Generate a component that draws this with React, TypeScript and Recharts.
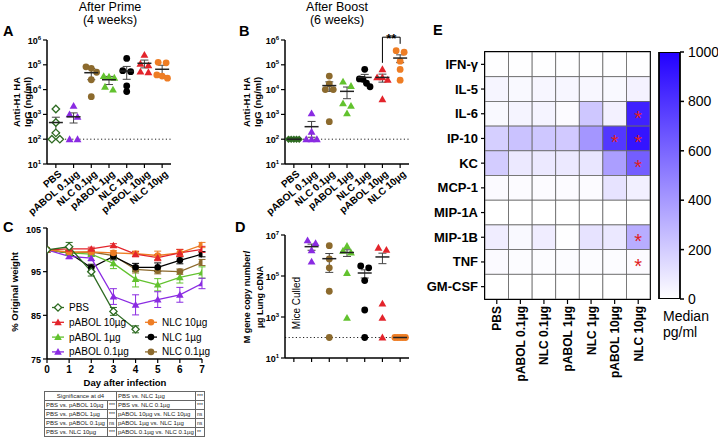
import React from "react";
import {
  ScatterChart,
  Scatter,
  LineChart,
  Line,
  BarChart,
  Bar,
  XAxis,
  YAxis,
  ErrorBar,
  ReferenceLine,
  ReferenceArea,
  ReferenceDot,
} from "recharts";

const FONT = "'Liberation Sans', Arial, Helvetica, sans-serif";

const GROUPS = ["PBS", "pABOL 0.1µg", "NLC 0.1µg", "pABOL 1µg", "NLC 1µg", "pABOL 10µg", "NLC 10µg"];
const GROUP_COLORS = ["#2e6b22", "#8a2be2", "#8c6a2d", "#62c22e", "#000000", "#e3242b", "#ee7d24"];
const GROUP_SHAPES = ["diamond", "triangle", "circle", "triangle", "circle", "triangle", "circle"];

// A: anti-H1 HA IgG after prime (ng/ml), one array per group
const primeValues = [
  [1650, 470, 180, 100, 100],
  [2200, 1000, 800, 100, 100],
  [83000, 72000, 50000, 25000, 5200],
  [35000, 33000, 30000, 13000, 10000],
  [180000, 58000, 53000, 14000, 8300],
  [250000, 110000, 95000, 53000, 50000],
  [126000, 120000, 39000, 35000, 29000],
];
const primeMean = [470, 800, 48000, 25000, 56000, 115000, 66000];
const primeSem = [300, 350, 23000, 9000, 30000, 40000, 30000];

// B: after boost
const boostValues = [
  [100, 100, 100, 100, 100],
  [1100, 200, 100, 100, 100],
  [35000, 17000, 10000, 10000, 510],
  [21000, 14000, 2800, 2200, 1100],
  [66000, 27000, 26000, 18000, 13000],
  [66000, 31000, 31000, 25000, 4100],
  [370000, 320000, 140000, 65000, 24000],
];
const boostMean = [100, 320, 14500, 8500, 31000, 31000, 187000];
const boostSem = [0, 200, 6000, 4200, 10000, 11000, 65000];

// D: M gene copies / µg lung cDNA (PBS mice culled)
const lungValues = [
  [],
  [5500000, 4000000, 1800000, 500000],
  [3000000, 680000, 250000, 18000, 100],
  [2900000, 1700000, 1400000, 140000, 900],
  [310000, 250000, 60000, 2200, 100],
  [2400000, 1900000, 4500, 900, 100],
  [100, 100, 100, 100, 100],
];
const lungMean = [null, 2700000, 700000, 1400000, 140000, 850000, 100];
const lungSem = [null, 900000, 550000, 500000, 60000, 450000, 0];

// C: % original weight by day
const days = [0, 1, 2, 3, 4, 5, 6, 7];
const wPbs = [100, 100.7, 95.0, 85.9, 81.8, null, null, null];
const wPbsErr = [0, 1.0, 1.0, 0.9, 0.8, null, null, null];
const wPabol10 = [100, 100.2, 100.2, 101.0, 99.0, 98.2, 99.3, 100.1];
const wPabol10Err = [0, 0.4, 0.4, 0.4, 0.6, 0.7, 0.8, 0.7];
const wPabol1 = [100, 99.3, 99.0, 96.9, 93.3, 92.0, 93.7, 94.8];
const wPabol1Err = [0, 0.5, 0.5, 1.2, 1.8, 1.4, 1.3, 1.3];
const wPabol01 = [100, 98.5, 98.1, 89.3, 87.4, 88.6, 89.7, 92.3];
const wPabol01Err = [0, 0.5, 0.6, 1.8, 2.3, 1.8, 1.7, 1.2];
const wNlc10 = [100, 99.5, 99.5, 99.3, 99.1, 98.7, 99.3, 101.1];
const wNlc10Err = [0, 0.4, 0.4, 0.5, 0.6, 1.0, 0.8, 0.6];
const wNlc1 = [100, 99.3, 95.9, 98.5, 96.0, 96.0, 97.6, 99.0];
const wNlc1Err = [0, 0.5, 0.8, 0.8, 0.9, 1.0, 0.8, 0.6];
const wNlc01 = [100, 99.3, 99.5, 98.7, 95.5, 95.2, 95.0, 97.1];
const wNlc01Err = [0, 0.5, 0.5, 0.6, 0.8, 0.7, 0.6, 0.7];

// significance table (day 4)
const sigTitle = "Significance at d4";
const sigLeftComparisons = ["PBS vs. pABOL 10µg", "PBS vs. pABOL 1µg", "PBS vs. pABOL 0.1µg", "PBS vs. NLC 10µg"];
const sigLeftStars = ["***", "***", "ns", "***"];
const sigRightComparisons = [
  "PBS vs. NLC 1µg",
  "PBS vs. NLC 0.1µg",
  "pABOL 10µg vs. NLC 10µg",
  "pABOL 1µg vs. NLC 1µg",
  "pABOL 0.1µg vs. NLC 0.1µg",
];
const sigRightStars = ["***", "***", "ns", "ns", "**"];

// E: cytokine medians (pg/ml)
const cytokines = ["IFN-γ", "IL-5", "IL-6", "IP-10", "KC", "MCP-1", "MIP-1A", "MIP-1B", "TNF", "GM-CSF"];
const cytokineMedians = [
  [5, 5, 5, 5, 5, 5, 5],
  [40, 25, 35, 35, 30, 25, 50],
  [25, 45, 45, 15, 220, 55, 870],
  [190, 240, 220, 210, 410, 780, 920],
  [200, 85, 85, 85, 100, 380, 630],
  [20, 15, 15, 15, 15, 110, 60],
  [0, 0, 0, 0, 0, 0, 0],
  [70, 25, 70, 5, 110, 90, 320],
  [20, 12, 12, 12, 12, 12, 15],
  [0, 0, 0, 0, 0, 0, 0],
];
const starredCells = [[2, 6], [3, 5], [3, 6], [4, 6], [7, 6], [8, 6]];
const colorbarTicks = [0, 200, 400, 600, 800, 1000];

const LOG_TICKS_AB = [10, 100, 1e3, 1e4, 1e5, 1e6];
const LOG_TICKS_D = [10, 100, 1e3, 1e4, 1e5, 1e6, 1e7];

function heatColor(v: number) {
  const t = Math.max(0, Math.min(1, v / 1000));
  const r = Math.round(255 - t * (255 - 34));
  const g = Math.round(255 - t * 255);
  return `rgb(${r},${g},255)`;
}

// simple beeswarm: spread points that sit at nearly the same level
function swarm(vals: number[]): number[] {
  const order = vals.map((_, i) => i).sort((a, b) => vals[b] - vals[a]);
  const offsets = vals.map(() => 0);
  let cluster: number[] = [];
  const flush = () => {
    const n = cluster.length;
    const step = n > 1 ? Math.min(0.45, 0.6 / (n - 1)) : 0;
    cluster.forEach((idx, k) => {
      offsets[idx] = (k - (n - 1) / 2) * step;
    });
    cluster = [];
  };
  order.forEach((idx) => {
    const last = cluster[cluster.length - 1];
    if (cluster.length && Math.log10(vals[last]) - Math.log10(vals[idx]) > 0.22) flush();
    cluster.push(idx);
  });
  flush();
  return offsets;
}

function Marker({ cx, cy, shape, color, open, r = 3.4 }: any) {
  if (cx == null || cy == null || Number.isNaN(cx) || Number.isNaN(cy)) return <g />;
  const fill = open ? "#fff" : color;
  const sw = open ? 1.3 : 0;
  if (shape === "circle") return <circle cx={cx} cy={cy} r={r} fill={fill} stroke={color} strokeWidth={sw} />;
  if (shape === "triangle") {
    const s = r * 1.15;
    return (
      <polygon
        points={`${cx},${cy - s} ${cx + s},${cy + s * 0.75} ${cx - s},${cy + s * 0.75}`}
        fill={fill}
        stroke={color}
        strokeWidth={sw}
      />
    );
  }
  const d = r * 1.1;
  return (
    <polygon
      points={`${cx},${cy - d} ${cx + d},${cy} ${cx},${cy + d} ${cx - d},${cy}`}
      fill={fill}
      stroke={color}
      strokeWidth={sw}
    />
  );
}

function LogTick({ x, y, payload }: any) {
  const exp = Math.round(Math.log10(payload.value));
  return (
    <text x={x} y={y} dy={3.5} textAnchor="end" fontSize={9} fontWeight="bold" fontFamily={FONT} fill="#000">
      10
      <tspan dy={-4} fontSize={6}>
        {exp}
      </tspan>
    </text>
  );
}

function NumTick({ x, y, payload, axis }: any) {
  return (
    <text
      x={x}
      y={y}
      dy={axis === "x" ? 8 : 3.5}
      textAnchor={axis === "x" ? "middle" : "end"}
      fontSize={axis === "x" ? 10 : 9}
      fontWeight="bold"
      fontFamily={FONT}
      fill="#000"
    >
      {payload.value}
    </text>
  );
}

function CategoryTick({ x, y, payload }: any) {
  const tx = x + 4;
  const ty = y + 2;
  return (
    <text
      x={tx}
      y={ty}
      dy={4}
      transform={`rotate(-40 ${tx} ${ty})`}
      textAnchor="end"
      fontSize={10}
      fontWeight="bold"
      fontFamily={FONT}
      fill="#000"
    >
      {GROUPS[payload.value]}
    </text>
  );
}

const axisStyle = { stroke: "#000", strokeWidth: 1.5 };
const tickStyle = { stroke: "#000", strokeWidth: 1.2 };

function DotPanel({ left, top, height, marginTop, xHeight, values, means, sems, domain, ticks, pbsOpen, showLabels, children }: any) {
  const pts = values.flatMap((vals: number[], g: number) => {
    const dx = swarm(vals);
    return vals.map((v, i) => ({ x: g + dx[i], y: v, g }));
  });
  const meanPts = means
    .map((m: number | null, g: number) => (m == null ? null : { x: g, y: m, e: sems[g] }))
    .filter(Boolean);
  return (
    <div style={{ position: "absolute", left, top }}>
      <ScatterChart width={180} height={height} margin={{ top: marginTop, right: 9, bottom: 0, left: 7 }}>
        <XAxis
          type="number"
          dataKey="x"
          domain={[-0.5, 6.5]}
          ticks={[0, 1, 2, 3, 4, 5, 6]}
          allowDataOverflow
          height={xHeight}
          axisLine={axisStyle}
          tickLine={tickStyle}
          tickSize={4}
          tick={showLabels ? CategoryTick : () => <g />}
        />
        <YAxis
          type="number"
          dataKey="y"
          scale="log"
          domain={domain}
          ticks={ticks}
          allowDataOverflow
          width={40}
          axisLine={axisStyle}
          tickLine={tickStyle}
          tickSize={4}
          tickMargin={2}
          tick={LogTick}
        />
        <ReferenceLine y={100} stroke="#222" strokeWidth={1} strokeDasharray="1.2 2.4" />
        <Scatter
          data={pts}
          isAnimationActive={false}
          shape={(p: any) => (
            <Marker
              cx={p.cx}
              cy={p.cy}
              shape={GROUP_SHAPES[p.payload.g]}
              color={GROUP_COLORS[p.payload.g]}
              open={pbsOpen && p.payload.g === 0}
            />
          )}
        />
        <Scatter
          data={meanPts}
          isAnimationActive={false}
          shape={(p: any) => (
            <line x1={p.cx - 7} x2={p.cx + 7} y1={p.cy} y2={p.cy} stroke="#222" strokeWidth={1.5} />
          )}
        >
          <ErrorBar dataKey="e" direction="y" width={4} stroke="#444" strokeWidth={1} />
        </Scatter>
        {children}
      </ScatterChart>
    </div>
  );
}

const weightSeries = [
  { key: "nlc01", label: "NLC 0.1µg", values: wNlc01, errs: wNlc01Err, color: GROUP_COLORS[2], shape: "circle", open: false },
  { key: "nlc1", label: "NLC 1µg", values: wNlc1, errs: wNlc1Err, color: GROUP_COLORS[4], shape: "circle", open: false },
  { key: "pabol1", label: "pABOL 1µg", values: wPabol1, errs: wPabol1Err, color: GROUP_COLORS[3], shape: "triangle", open: false },
  { key: "pabol01", label: "pABOL 0.1µg", values: wPabol01, errs: wPabol01Err, color: GROUP_COLORS[1], shape: "triangle", open: false },
  { key: "nlc10", label: "NLC 10µg", values: wNlc10, errs: wNlc10Err, color: GROUP_COLORS[6], shape: "circle", open: false },
  { key: "pabol10", label: "pABOL 10µg", values: wPabol10, errs: wPabol10Err, color: GROUP_COLORS[5], shape: "triangle", open: false },
  { key: "pbs", label: "PBS", values: wPbs, errs: wPbsErr, color: GROUP_COLORS[0], shape: "diamond", open: true },
];

const weightRows = days.map((d, i) => {
  const row: Record<string, number | null> = { day: d };
  weightSeries.forEach((s) => {
    row[s.key] = s.values[i];
    row[s.key + "E"] = s.errs[i];
  });
  return row;
});

// legend layout: [series key, column, row]
const legendSlots: [string, number, number][] = [
  ["pbs", 0, 0],
  ["pabol10", 0, 1],
  ["pabol1", 0, 2],
  ["pabol01", 0, 3],
  ["nlc10", 1, 1],
  ["nlc1", 1, 2],
  ["nlc01", 1, 3],
];

const HEAT_PLOT_W = 165;
const HEAT_PLOT_H = 247;
const CELL_W = HEAT_PLOT_W / GROUPS.length;
const CELL_H = HEAT_PLOT_H / cytokines.length;

const heatCells = cytokines.flatMap((_, r) =>
  GROUPS.map((__, c) => ({
    x: c,
    y: r,
    v: cytokineMedians[r][c],
    star: starredCells.some(([sr, sc]) => sr === r && sc === c),
  }))
);

function HeatRowTick({ x, y, payload }: any) {
  return (
    <text x={x} y={y} dy={4.5} textAnchor="end" fontSize={13} fontWeight="bold" fontFamily={FONT} fill="#000">
      {cytokines[payload.value]}
    </text>
  );
}

function HeatColTick({ x, y, payload }: any) {
  return (
    <text
      x={x}
      y={y}
      dy={4.5}
      transform={`rotate(-90 ${x} ${y})`}
      textAnchor="end"
      fontSize={12}
      fontWeight="bold"
      fontFamily={FONT}
      fill="#000"
    >
      {GROUPS[payload.value]}
    </text>
  );
}

function ColorbarTick({ x, y, payload }: any) {
  return (
    <text x={x} y={y} dy={5} textAnchor="start" fontSize={14} fontFamily={FONT} fill="#000">
      {payload.value}
    </text>
  );
}

function VText({ x, y, children, size = 9.5, bold = true }: any) {
  return (
    <text
      x={x}
      y={y}
      transform={`rotate(-90 ${x} ${y})`}
      textAnchor="middle"
      dy="0.35em"
      fontSize={size}
      fontWeight={bold ? "bold" : "normal"}
      fontFamily={FONT}
      fill="#000"
    >
      {children}
    </text>
  );
}

const cellStyle: React.CSSProperties = {
  border: "0.6px solid #666",
  padding: "0 1px",
  height: 8,
  fontSize: 6,
  lineHeight: "8px",
  fontFamily: FONT,
  whiteSpace: "nowrap",
  overflow: "hidden",
  color: "#222",
};

export default function App() {
  return (
    <div style={{ position: "absolute", left: 0, top: 0, width: 718, height: 437, background: "#fff", fontFamily: FONT }}>
      {/* A */}
      <DotPanel
        left={0}
        top={0}
        height={240}
        marginTop={40}
        xHeight={76}
        values={primeValues}
        means={primeMean}
        sems={primeSem}
        domain={[10, 1e6]}
        ticks={LOG_TICKS_AB}
        pbsOpen
        showLabels
      />
      {/* B */}
      <DotPanel
        left={238}
        top={0}
        height={240}
        marginTop={40}
        xHeight={76}
        values={boostValues}
        means={boostMean}
        sems={boostSem}
        domain={[10, 1e6]}
        ticks={LOG_TICKS_AB}
        pbsOpen={false}
        showLabels
      >
        <ReferenceLine
          segment={[{ x: 5, y: 1.2e5 }, { x: 5, y: 1.3e6 }]}
          stroke="#000"
          strokeWidth={1}
          ifOverflow="visible"
        />
        <ReferenceLine
          segment={[{ x: 5, y: 1.3e6 }, { x: 6, y: 1.3e6 }]}
          stroke="#000"
          strokeWidth={1}
          ifOverflow="visible"
        />
        <ReferenceLine
          segment={[{ x: 6, y: 1.3e6 }, { x: 6, y: 7e5 }]}
          stroke="#000"
          strokeWidth={1}
          ifOverflow="visible"
        />
        <ReferenceDot
          x={5.5}
          y={1.8e6}
          r={0}
          ifOverflow="visible"
          label={{ value: "**", position: "center", fontSize: 13, fontWeight: "bold", fill: "#000", dy: 5 }}
        />
      </DotPanel>
      {/* D */}
      <DotPanel
        left={238}
        top={222}
        height={150}
        marginTop={13}
        xHeight={14}
        values={lungValues}
        means={lungMean}
        sems={lungSem}
        domain={[10, 1e7]}
        ticks={LOG_TICKS_D}
        pbsOpen={false}
        showLabels={false}
      />
      {/* C */}
      <div style={{ position: "absolute", left: 0, top: 220 }}>
        <LineChart width={215} height={170} data={weightRows} margin={{ top: 8, right: 13, bottom: 0, left: 7 }}>
          <XAxis
            type="number"
            dataKey="day"
            domain={[0, 7]}
            ticks={days}
            allowDataOverflow
            height={31}
            axisLine={axisStyle}
            tickLine={tickStyle}
            tickSize={4}
            tick={(p: any) => <NumTick {...p} axis="x" />}
          />
          <YAxis
            type="number"
            domain={[75, 105]}
            ticks={[75, 80, 85, 90, 95, 100, 105]}
            allowDataOverflow
            width={40}
            axisLine={axisStyle}
            tickLine={tickStyle}
            tickSize={4}
            tickMargin={2}
            tick={(p: any) => <NumTick {...p} axis="y" />}
          />
          {weightSeries.map((s) => (
            <Line
              key={s.key}
              dataKey={s.key}
              stroke={s.color}
              strokeWidth={1.3}
              isAnimationActive={false}
              connectNulls={false}
              dot={(p: any) => (
                <Marker key={`${s.key}-${p.index}`} cx={p.cx} cy={p.cy} shape={s.shape} color={s.color} open={s.open} r={3.3} />
              )}
              activeDot={false}
            >
              <ErrorBar dataKey={s.key + "E"} direction="y" width={3.5} stroke={s.color} strokeWidth={1} />
            </Line>
          ))}
        </LineChart>
      </div>
      {/* E heatmap */}
      <div style={{ position: "absolute", left: 420, top: 0 }}>
        <ScatterChart width={235} height={400} margin={{ top: 52, right: 5, bottom: 0, left: 0 }}>
          <XAxis
            type="number"
            dataKey="x"
            domain={[-0.5, 6.5]}
            ticks={[0, 1, 2, 3, 4, 5, 6]}
            allowDataOverflow
            height={101}
            axisLine={{ stroke: "#000", strokeWidth: 1.8 }}
            tickLine={tickStyle}
            tickSize={5}
            tick={HeatColTick}
          />
          <YAxis
            type="number"
            dataKey="y"
            domain={[-0.5, 9.5]}
            ticks={[0, 1, 2, 3, 4, 5, 6, 7, 8, 9]}
            reversed
            allowDataOverflow
            width={65}
            axisLine={{ stroke: "#000", strokeWidth: 1.8 }}
            tickLine={tickStyle}
            tickSize={4}
            tickMargin={3}
            tick={HeatRowTick}
          />
          <Scatter
            data={heatCells}
            isAnimationActive={false}
            shape={(p: any) => (
              <g>
                <rect
                  x={p.cx - CELL_W / 2}
                  y={p.cy - CELL_H / 2}
                  width={CELL_W}
                  height={CELL_H}
                  fill={heatColor(p.payload.v)}
                  stroke="#666"
                  strokeWidth={0.8}
                />
                {p.payload.star && (
                  <text x={p.cx} y={p.cy + 11} textAnchor="middle" fontSize={20} fontFamily={FONT} fill="#e0201e">
                    *
                  </text>
                )}
              </g>
            )}
          />
          <ReferenceArea x1={-0.5} x2={6.5} y1={-0.5} y2={9.5} fill="none" fillOpacity={0} stroke="#000" strokeWidth={1.8} />
        </ScatterChart>
      </div>
      {/* E colour bar */}
      <div style={{ position: "absolute", left: 640, top: 0 }}>
        <BarChart
          width={78}
          height={310}
          data={[{ name: "scale", v: 1000 }]}
          margin={{ top: 52, right: 0, bottom: 11, left: 19 }}
          barCategoryGap={0}
        >
          <defs>
            <linearGradient id="heatGrad" x1="0" y1="1" x2="0" y2="0">
              <stop offset="0%" stopColor={heatColor(0)} />
              <stop offset="100%" stopColor={heatColor(1000)} />
            </linearGradient>
          </defs>
          <XAxis dataKey="name" hide />
          <YAxis
            orientation="right"
            type="number"
            domain={[0, 1000]}
            ticks={colorbarTicks}
            allowDataOverflow
            width={38}
            axisLine={false}
            tickLine={{ stroke: "#000", strokeWidth: 1.5 }}
            tickSize={4}
            tickMargin={4}
            tick={ColorbarTick}
          />
          <Bar dataKey="v" fill="url(#heatGrad)" stroke="#000" strokeWidth={1.8} isAnimationActive={false} />
        </BarChart>
      </div>
      {/* significance table */}
      <table
        style={{
          position: "absolute",
          left: 44,
          top: 391,
          borderCollapse: "collapse",
          tableLayout: "fixed",
          width: 160,
        }}
      >
        <colgroup>
          <col style={{ width: 63 }} />
          <col style={{ width: 9 }} />
          <col style={{ width: 79 }} />
          <col style={{ width: 9 }} />
        </colgroup>
        <tbody>
          {sigRightComparisons.map((right, i) => (
            <tr key={i}>
              {i === 0 ? (
                <td colSpan={2} style={{ ...cellStyle, textAlign: "center" }}>
                  {sigTitle}
                </td>
              ) : (
                <>
                  <td style={cellStyle}>{sigLeftComparisons[i - 1]}</td>
                  <td style={{ ...cellStyle, fontSize: 5 }}>{sigLeftStars[i - 1]}</td>
                </>
              )}
              <td style={cellStyle}>{right}</td>
              <td style={{ ...cellStyle, fontSize: 5 }}>{sigRightStars[i]}</td>
            </tr>
          ))}
        </tbody>
      </table>
      {/* annotations */}
      <svg width={718} height={437} style={{ position: "absolute", left: 0, top: 0, pointerEvents: "none", overflow: "visible" }}>
        <g fontFamily={FONT} fill="#000">
          <text x={110} y={11} textAnchor="middle" fontSize={12.5}>After Prime</text>
          <text x={110} y={24} textAnchor="middle" fontSize={12.5}>(4 weeks)</text>
          <text x={337} y={11} textAnchor="middle" fontSize={12.5}>After Boost</text>
          <text x={337} y={24} textAnchor="middle" fontSize={12.5}>(6 weeks)</text>
          <text x={3} y={36} fontSize={14.5} fontWeight="bold">A</text>
          <text x={239} y={36} fontSize={14.5} fontWeight="bold">B</text>
          <text x={3} y={232} fontSize={14.5} fontWeight="bold">C</text>
          <text x={235} y={232} fontSize={14.5} fontWeight="bold">D</text>
          <text x={433} y={35} fontSize={14.5} fontWeight="bold">E</text>
          <text x={125} y={386} textAnchor="middle" fontSize={9.5} fontWeight="bold">Day after infection</text>
          <text x={663} y={321} fontSize={14}>Median</text>
          <text x={663} y={337} fontSize={14}>pg/ml</text>
        </g>
        <VText x={16.5} y={102}>Anti-H1 HA</VText>
        <VText x={28} y={102}>IgG (ng/ml)</VText>
        <VText x={247} y={102}>Anti-H1 HA</VText>
        <VText x={258} y={102}>IgG (ng/ml)</VText>
        <VText x={15} y={292}>% Original weight</VText>
        <VText x={246.5} y={297} size={9}>M gene copy number/</VText>
        <VText x={259.5} y={297} size={9}>µg Lung cDNA</VText>
        <VText x={296} y={303} size={10} bold={false}>Mice Culled</VText>
        {legendSlots.map(([key, col, row]) => {
          const s = weightSeries.find((w) => w.key === key)!;
          const x0 = col === 0 ? 52 : 145;
          const y0 = 307.5 + row * 14.8;
          return (
            <g key={key}>
              <line x1={x0} x2={x0 + 12} y1={y0} y2={y0} stroke={s.color} strokeWidth={1.3} />
              <Marker cx={x0 + 6} cy={y0} shape={s.shape} color={s.color} open={s.open} r={3.3} />
              <text x={x0 + 17} y={y0} dy="0.35em" fontSize={10} fontFamily={FONT} fill="#000">
                {s.label}
              </text>
            </g>
          );
        })}
      </svg>
    </div>
  );
}
